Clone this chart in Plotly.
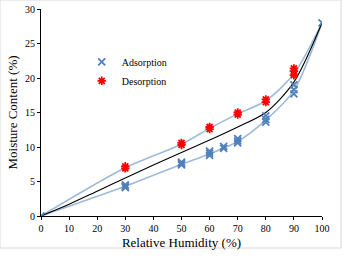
import plotly.graph_objects as go

# Measured points (replicates)
ads_rh = [0, 30, 30, 30, 50, 50, 50, 60, 60, 60, 65, 65, 70, 70, 70, 80, 80, 80, 90, 90, 90, 100]
ads_mc = [0, 4.1, 4.3, 4.5, 7.4, 7.6, 7.8, 8.8, 9.1, 9.4, 9.8, 10.1, 10.6, 10.9, 11.2, 13.6, 14.0, 14.5, 17.7, 18.3, 19.0, 28.0]
des_rh = [30, 30, 50, 50, 60, 60, 70, 70, 80, 80, 90, 90, 90]
des_mc = [6.9, 7.2, 10.3, 10.6, 12.6, 12.9, 14.7, 15.0, 16.5, 16.9, 20.4, 21.0, 21.4]

# Curves
ads_line_rh = [0, 30, 50, 60, 70, 80, 90, 100]
ads_line_mc = [0, 4.3, 7.5, 9.0, 10.8, 13.9, 18.2, 28.0]
des_line_rh = [0, 30, 50, 60, 70, 80, 90, 100]
des_line_mc = [0, 7.0, 10.4, 12.7, 14.8, 16.7, 20.6, 28.0]
fit_rh = [0, 10, 20, 30, 40, 50, 60, 70, 80, 90, 100]
fit_mc = [0, 1.7, 3.6, 5.5, 7.4, 9.2, 11.0, 12.9, 15.0, 19.4, 28.0]

x_ticks = [0, 10, 20, 30, 40, 50, 60, 70, 80, 90, 100]
y_ticks = [0, 5, 10, 15, 20, 25, 30]

FONT = "Times New Roman"
LIGHT = "rgba(79,129,189,0.55)"

fig = go.Figure()
fig.add_trace(go.Scatter(x=ads_line_rh, y=ads_line_mc, mode="lines",
                         line=dict(color=LIGHT, width=1.6, shape="spline", smoothing=0.8),
                         showlegend=False, hoverinfo="skip"))
fig.add_trace(go.Scatter(x=des_line_rh, y=des_line_mc, mode="lines",
                         line=dict(color=LIGHT, width=1.6, shape="spline", smoothing=0.8),
                         showlegend=False, hoverinfo="skip"))
fig.add_trace(go.Scatter(x=fit_rh, y=fit_mc, mode="lines",
                         line=dict(color="black", width=1.1, shape="spline", smoothing=0.8),
                         showlegend=False, hoverinfo="skip"))
fig.add_trace(go.Scatter(x=ads_rh, y=ads_mc, mode="markers", name="Adsorption",
                         marker=dict(symbol="x-thin-open", size=7, color="#4F81BD",
                                     line=dict(color="#4F81BD", width=1.8))))
fig.add_trace(go.Scatter(x=des_rh, y=des_mc, mode="markers", name="Desorption",
                         marker=dict(symbol="asterisk-open", size=7, color="#FF0000",
                                     line=dict(color="#FF0000", width=1.8))))

axis_common = dict(showgrid=False, zeroline=False, showline=True, linecolor="black",
                   linewidth=1, ticks="outside", ticklen=3, tickcolor="black", automargin=False,
                   tickfont=dict(family=FONT, size=10, color="black"))
fig.update_xaxes(range=[0, 100], tickvals=x_ticks,
                 title=dict(text="Relative Humidity (%)", font=dict(family=FONT, size=13, color="black"), standoff=4),
                 **axis_common)
fig.update_yaxes(range=[0, 30], tickvals=y_ticks,
                 title=dict(text="Moisture Content (%)", font=dict(family=FONT, size=13, color="black"), standoff=4),
                 **axis_common)

fig.update_layout(
    width=343, height=257,
    margin=dict(l=41, r=21, t=9, b=41),
    paper_bgcolor="white", plot_bgcolor="white",
    font=dict(family=FONT),
    legend=dict(x=0.145, y=0.815, xanchor="left", yanchor="top", bgcolor="rgba(0,0,0,0)",
                font=dict(family=FONT, size=10, color="black"), itemwidth=30, tracegroupgap=0),
    shapes=[dict(type="rect", xref="paper", yref="paper",
                 x0=-41/281, x1=(341-41)/281, y0=(216-248)/207, y1=216/207,
                 line=dict(color="#D9D9D9", width=1), layer="below")],
)
fig.write_html("out.html", config={"displayModeBar": False},
               post_script="document.body.style.margin='0';document.body.style.padding='0';")
